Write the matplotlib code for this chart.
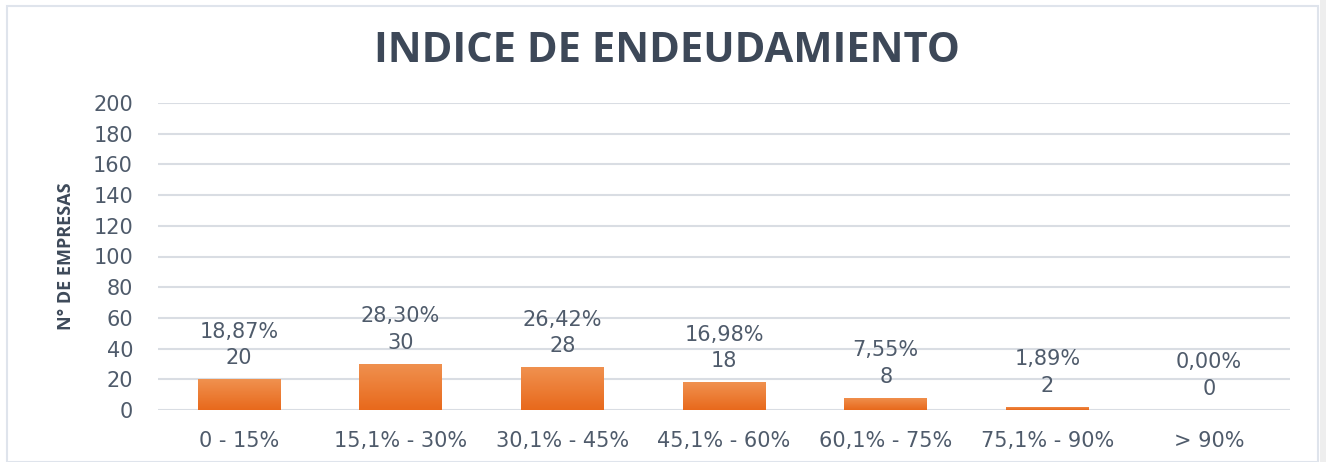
import matplotlib.pyplot as plt
import numpy as np
from matplotlib.patches import Rectangle
from matplotlib.colors import LinearSegmentedColormap

categories = ["0 - 15%", "15,1% - 30%", "30,1% - 45%", "45,1% - 60%", "60,1% - 75%", "75,1% - 90%", "> 90%"]
empresas = [20, 30, 28, 18, 8, 2, 0]
porcentajes = ["18,87%", "28,30%", "26,42%", "16,98%", "7,55%", "1,89%", "0,00%"]
yticks = list(range(0, 201, 20))

plt.rcParams['font.family'] = ['DejaVu Sans']
txtColor = '#4f5b6b'

fig = plt.figure(figsize=(13.26, 4.62), dpi=100)
# outer frame like the excel chart area
fig.patches.append(Rectangle((7/1326, 0), (1318-7)/1326, 1 - 6/462, transform=fig.transFigure,
                             fill=False, edgecolor='#dfe4ec', linewidth=1.5))
fig.patches.append(Rectangle((1320/1326, 0), 6/1326, 1, transform=fig.transFigure,
                             facecolor='#eeeeee', edgecolor='none'))

ax = fig.add_axes([158/1326, 1 - 410/462, 1132/1326, 307/462])
x = np.arange(len(categories))
bars = ax.bar(x, empresas, width=0.51, color='#ED7D31', zorder=2)

# vertical gradient on the bars
grad = np.linspace(0, 1, 100).reshape(-1, 1)
cmap = LinearSegmentedColormap.from_list('og', ['#E8691C', '#F0914F'])
for b in bars:
    if b.get_height() <= 0:
        continue
    x0, y0 = b.get_x(), b.get_y()
    im = ax.imshow(grad, cmap=cmap, aspect='auto', origin='lower',
                   extent=[x0, x0 + b.get_width(), y0, y0 + b.get_height()], zorder=3)
    im.set_clip_path(b)

for i in range(len(categories)):
    ax.annotate(porcentajes[i] + "\n" + str(empresas[i]), (x[i], empresas[i]),
                xytext=(0, 8), textcoords='offset points', ha='center', va='bottom',
                fontsize=15, color=txtColor, linespacing=1.4)

ax.set_xlim(-0.5, len(categories) - 0.5)
ax.set_ylim(0, 200)
ax.set_yticks(yticks)
ax.set_xticks(x)
ax.set_xticklabels(categories)
ax.tick_params(axis='both', length=0, labelsize=15, colors=txtColor)
ax.tick_params(axis='y', pad=18)
ax.tick_params(axis='x', pad=15)
ax.grid(axis='y', color='#d9dde3', linewidth=1.5, zorder=0)
ax.set_axisbelow(True)
for s in ax.spines.values():
    s.set_visible(False)

ax.set_ylabel("N° DE EMPRESAS", fontsize=13, fontweight='bold', color='#3e4a5a',
              family=['Open Sans', 'DejaVu Sans'], labelpad=13)
fig.text(667/1326, 1 - 52/462, "INDICE DE ENDEUDAMIENTO", ha='center', va='center',
         fontsize=30, fontweight='bold', color='#3d4858', family=['Open Sans', 'DejaVu Sans'])

fig.savefig('out.png', dpi=100)
